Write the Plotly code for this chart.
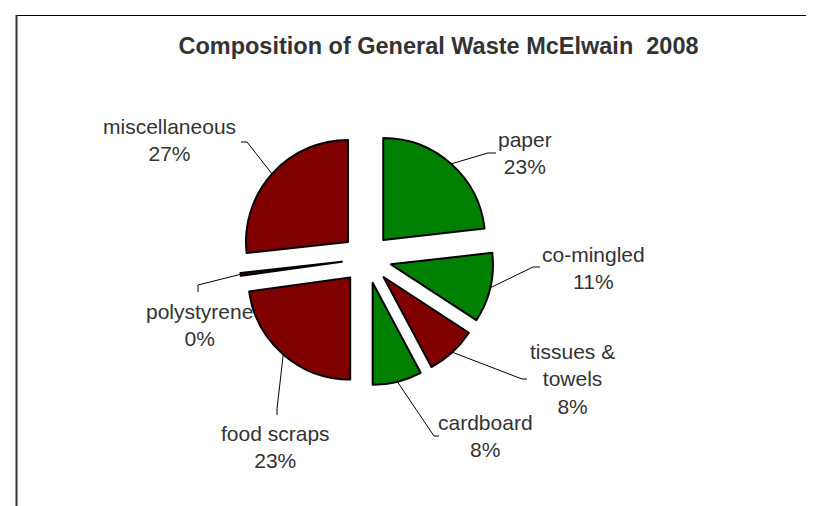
import math
import plotly.graph_objects as go

# ---- data ----
categories = ["paper", "co-mingled", "tissues &<br>towels", "cardboard",
              "food scraps", "polystyrene", "miscellaneous"]
values = [23.2, 11.0, 8.0, 7.8, 22.8, 0.45, 26.75]
colors = ["#008000", "#008000", "#800000", "#008000", "#800000", "#800000", "#800000"]

# ---- layout constants (pixels of the 814x506 window) ----
W, H = 814, 506
OFF = 8                    # default page body margin
FW, FH = W - OFF, H - OFF  # figure size
CX, CY = 366.6, 258.6      # pie centre
R = 102.0                  # pie radius
PULL = 0.245               # explosion as fraction of radius
FONT = "Liberation Sans, Arial, sans-serif"

# label block centres and leader elbows/ends (pixels)
label_pos = [(525, 153), (593, 268), (572, 379), (485, 436), (275, 447), (199, 325), (169, 140)]
leader_elbow = [(488, 153), (533, 267), (522, 379), (434, 436), (277, 409), (198, 285), (247, 142)]
leader_end = [(496, 153), (540, 267), (527, 379), (439, 436), (277, 415), (198, 292), (241, 142)]


def px(x):
    return (x - OFF) / FW


def py(y):
    return 1 - (y - OFF) / FH


half = R * (1 + PULL)
fig = go.Figure()
fig.add_trace(go.Pie(
    labels=categories,
    values=values,
    sort=False,
    direction="clockwise",
    rotation=0,
    pull=[PULL] * len(values),
    marker=dict(colors=colors, line=dict(color="black", width=2)),
    textinfo="none",
    showlegend=False,
    domain=dict(x=[px(CX - half), px(CX + half)],
                y=[py(CY + half), py(CY - half)]),
))

total = sum(values)
shapes = []
annotations = []
cum = 0.0
for i, v in enumerate(values):
    mid = (cum + v / 2) / total * 2 * math.pi
    cum += v
    dx, dy = math.sin(mid), -math.cos(mid)
    dist = R * (1 + PULL)
    tx, ty = CX + dx * dist, CY + dy * dist
    ex, ey = leader_elbow[i]
    fx, fy = leader_end[i]
    path = f"M {px(tx)},{py(ty)} L {px(ex)},{py(ey)} L {px(fx)},{py(fy)}"
    shapes.append(dict(type="path", xref="paper", yref="paper", path=path,
                       line=dict(color="black", width=1)))
    pct = round(v / total * 100)
    lx, ly = label_pos[i]
    annotations.append(dict(
        x=px(lx), y=py(ly), xref="paper", yref="paper",
        text=f"{categories[i]}<br>{pct}%", showarrow=False,
        xanchor="center", yanchor="middle", align="center",
        font=dict(family=FONT, size=21, color="#333333"),
    ))

# chart frame
shapes.append(dict(type="line", xref="paper", yref="paper",
                   x0=px(16.5), x1=1.02, y0=py(15.5), y1=py(15.5),
                   line=dict(color="black", width=1.2)))
shapes.append(dict(type="line", xref="paper", yref="paper",
                   x0=px(16.5), x1=px(16.5), y0=py(15), y1=-0.02,
                   line=dict(color="#333333", width=2)))

fig.update_layout(
    width=FW, height=FH,
    margin=dict(l=0, r=0, t=0, b=0),
    paper_bgcolor="white", plot_bgcolor="white",
    title=dict(text="<b>Composition of General Waste McElwain  2008</b>",
               x=px(438.5), y=py(46), xanchor="center", yanchor="middle",
               font=dict(family=FONT, size=23.5, color="#333333")),
    shapes=shapes,
    annotations=annotations,
)

fig.write_html("out.html")
